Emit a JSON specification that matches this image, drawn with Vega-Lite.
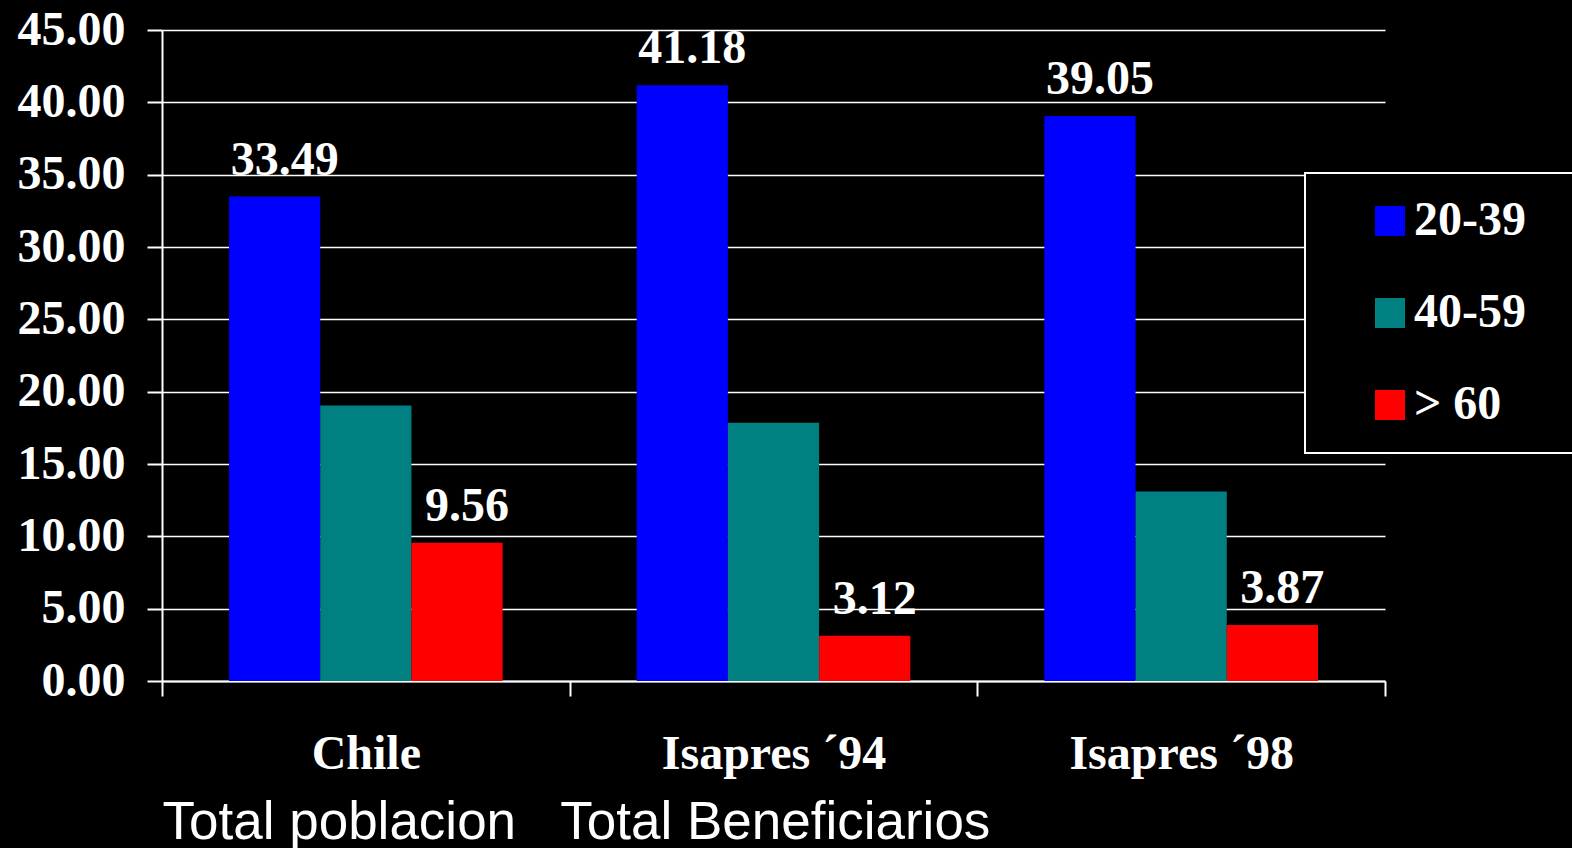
{
  "$schema": "https://vega.github.io/schema/vega-lite/v6.json",
  "width": 1223,
  "height": 651,
  "autosize": {"type": "none"},
  "padding": {"left": 162, "top": 30, "right": 187, "bottom": 167},
  "background": "black",
  "data": {
    "values": [
      {"cat": "Chile", "group": "20-39", "value": 33.49, "label": "33.49"},
      {"cat": "Chile", "group": "40-59", "value": 19.05, "label": ""},
      {"cat": "Chile", "group": "> 60", "value": 9.56, "label": "9.56"},
      {"cat": "Isapres ´94", "group": "20-39", "value": 41.18, "label": "41.18"},
      {"cat": "Isapres ´94", "group": "40-59", "value": 17.85, "label": ""},
      {"cat": "Isapres ´94", "group": "> 60", "value": 3.12, "label": "3.12"},
      {"cat": "Isapres ´98", "group": "20-39", "value": 39.05, "label": "39.05"},
      {"cat": "Isapres ´98", "group": "40-59", "value": 13.1, "label": ""},
      {"cat": "Isapres ´98", "group": "> 60", "value": 3.87, "label": "3.87"}
    ]
  },
  "encoding": {
    "x": {
      "field": "cat",
      "type": "nominal",
      "sort": ["Chile", "Isapres ´94", "Isapres ´98"],
      "scale": {"paddingInner": 0, "paddingOuter": 0},
      "axis": {
        "title": "Total poblacion\u00a0\u00a0\u00a0Total Beneficiarios",
        "titleFont": "Liberation Sans",
        "titleFontSize": 53,
        "titleFontWeight": "normal",
        "titleColor": "white",
        "titleAnchor": "start",
        "titleAlign": "left",
        "titlePadding": 18,
        "labelFont": "Liberation Serif",
        "labelFontWeight": "bold",
        "labelFontSize": 48,
        "labelColor": "white",
        "labelAngle": 0,
        "labelLimit": 0,
        "labelPadding": 34,
        "tickBand": "extent",
        "tickSize": 15,
        "tickColor": "white",
        "tickWidth": 2,
        "domainColor": "white",
        "domainWidth": 2,
        "grid": false
      }
    },
    "xOffset": {
      "field": "group",
      "type": "nominal",
      "sort": ["20-39", "40-59", "> 60"],
      "scale": {"paddingInner": 0, "paddingOuter": 0.735}
    },
    "y": {
      "field": "value",
      "type": "quantitative",
      "scale": {"domain": [0, 45], "nice": false},
      "axis": {
        "title": null,
        "values": [0, 5, 10, 15, 20, 25, 30, 35, 40, 45],
        "format": ".2f",
        "labelFont": "Liberation Serif",
        "labelFontWeight": "bold",
        "labelFontSize": 48,
        "labelColor": "white",
        "labelPadding": 22,
        "tickSize": 15,
        "tickColor": "white",
        "tickWidth": 2,
        "domainColor": "white",
        "domainWidth": 2,
        "grid": true,
        "gridColor": "white",
        "gridWidth": 1.5,
        "gridOpacity": 1
      }
    }
  },
  "layer": [
    {
      "mark": {"type": "bar"},
      "encoding": {
        "color": {
          "field": "group",
          "type": "nominal",
          "sort": ["20-39", "40-59", "> 60"],
          "scale": {"domain": ["20-39", "40-59", "> 60"], "range": ["#0000FF", "#008080", "#FF0000"]},
          "legend": {
            "title": "\u00a0",
            "titleOrient": "right",
            "titlePadding": 24,
            "titleFontSize": 48,
            "orient": "none",
            "legendX": 1143,
            "legendY": 143,
            "strokeColor": "white",
            "fillColor": "black",
            "padding": 24,
            "rowPadding": 44,
            "symbolType": "square",
            "symbolSize": 900,
            "symbolStrokeWidth": 0,
            "symbolOffset": 37,
            "labelOffset": 0,
            "labelFont": "Liberation Serif",
            "labelFontWeight": "bold",
            "labelFontSize": 48,
            "labelColor": "white",
            "encode": {"legend": {"update": {"strokeWidth": {"value": 2}}}}
          }
        }
      }
    },
    {
      "transform": [{"filter": "datum.label != ''"}],
      "mark": {
        "type": "text",
        "baseline": "alphabetic",
        "dy": -22,
        "dx": 10,
        "font": "Liberation Serif",
        "fontWeight": "bold",
        "fontSize": 48,
        "color": "white"
      },
      "encoding": {
        "text": {"field": "label"}
      }
    }
  ],
  "config": {
    "view": {"stroke": null}
  }
}
